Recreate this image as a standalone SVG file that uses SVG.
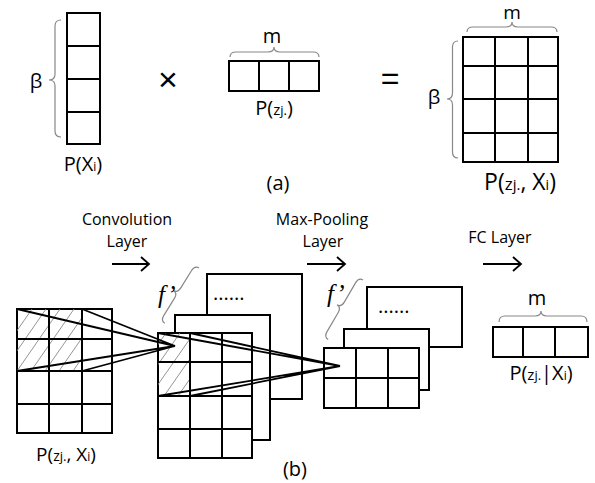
<svg xmlns="http://www.w3.org/2000/svg" width="595" height="483" viewBox="0 0 595 483">
<style>
.g{fill:#fff;stroke:#000;stroke-width:2}
.gl{stroke:#000;stroke-width:2;fill:none}
.br{fill:none;stroke:#888;stroke-width:1.2}
.h{fill:none;stroke:#888;stroke-width:0.9}
.t{font-family:"Open Sans","Liberation Sans",sans-serif;fill:#000}
.c{text-anchor:middle}
.f{font-family:"Liberation Serif",serif;font-style:italic;font-size:25px;fill:#000}
.ln{stroke:#000;stroke-width:1.8;fill:none}
</style>
<defs>
<clipPath id="clipA"><rect x="17" y="309" width="65" height="62"/></clipPath>
<clipPath id="clipB"><rect x="158" y="333" width="32" height="63"/></clipPath>
</defs>
<rect width="595" height="483" fill="#fff"/>

<g id="col-vector">
<rect class="g" x="67" y="13" width="33" height="131"/>
<path class="gl" d="M67,46H100M67,79H100M67,112H100"/>
<path class="br" d="M61,20 Q55,20 55,26 L55,74 Q55,80 49,80 Q55,80 55,86 L55,131 Q55,137 61,137"/>
<text class="t c" x="36" y="88" font-size="20">β</text>
<text class="t c" x="83" y="171" font-size="20">P(X<tspan font-size="12">i</tspan>)</text>
</g>

<text class="t c" x="168" y="91" font-size="34" style="font-family:'Liberation Sans',sans-serif">×</text>

<g id="row-vector">
<rect class="g" x="229" y="61" width="90" height="30"/>
<path class="gl" d="M259,61V91M289,61V91"/>
<path class="br" d="M230,57 Q230,52 236,52 L268,52 Q274,52 274,47 Q274,52 280,52 L313,52 Q319,52 319,57"/>
<text class="t c" x="272" y="43" font-size="20">m</text>
<text class="t c" x="274" y="115" font-size="20">P(<tspan font-size="15">z</tspan><tspan font-size="13">j.</tspan>)</text>
</g>

<text class="t c" x="390" y="89" font-size="32" style="font-family:'Liberation Sans',sans-serif">=</text>

<g id="joint-matrix">
<rect class="g" x="463" y="37" width="95" height="125"/>
<path class="gl" d="M495,37V162M528,37V162M463,66H558M463,99H558M463,133H558"/>
<path class="br" d="M467,32 Q467,27 473,27 L506,27 Q512,27 512,22 Q512,27 518,27 L551,27 Q557,27 557,32"/>
<path class="br" d="M458,41 Q452.5,41 452.5,47 L452.5,93 Q452.5,99 447,99 Q452.5,99 452.5,105 L452.5,152 Q452.5,158 458,158"/>
<text class="t c" x="512" y="19" font-size="19">m</text>
<text class="t c" x="434" y="104" font-size="20">β</text>
<text class="t c" x="520" y="190" font-size="23">P(<tspan font-size="17">z</tspan><tspan font-size="15">j.</tspan>, X<tspan font-size="14">i</tspan>)</text>
</g>

<text class="t c" x="278" y="190" font-size="20">(a)</text>

<g id="input-matrix">
<rect class="g" x="17" y="309" width="95" height="124"/>
<path class="h" clip-path="url(#clipA)" d="M-25,371L18,309M-11,371L32,309M3,371L46,309M17,371L60,309M31,371L74,309M45,371L88,309M59,371L102,309M73,371L116,309"/>
<path class="gl" d="M49,309V433M82,309V433M17,339H112M17,371H112M17,404H112"/>
<text class="t c" x="66" y="461" font-size="19">P(<tspan font-size="14">z</tspan><tspan font-size="13">j.</tspan>, X<tspan font-size="12">i</tspan>)</text>
</g>

<g id="conv-label">
<text class="t c" x="127" y="225" font-size="16">Convolution</text>
<text class="t c" x="127" y="247" font-size="16">Layer</text>
</g>

<g id="conv-maps">
<rect class="g" x="207" y="274" width="95" height="125"/>
<text class="t" x="213" y="300" font-size="20">......</text>
<rect class="g" x="175" y="315" width="95" height="125"/>
<rect class="g" x="158" y="333" width="94" height="125"/>
<path class="h" clip-path="url(#clipB)" d="M122,396L166,333M136,396L180,333M150,396L194,333M164,396L208,333M178,396L222,333"/>
<path class="gl" d="M190,333V458M222,333V458M158,362H252M158,396H252M158,429H252"/>
<path class="br" d="M0,0 Q0,5 6,5 L26.5,5 Q32.5,5 32.5,10 Q32.5,5 38.5,5 L59,5 Q65,5 65,0" transform="translate(199,268) rotate(121.7)"/>
<text class="f" x="158" y="303">f’</text>
</g>

<g id="pool-label">
<text class="t c" x="322" y="225" font-size="16">Max-Pooling</text>
<text class="t c" x="323" y="247" font-size="16">Layer</text>
</g>

<g id="pool-maps">
<rect class="g" x="367" y="287" width="95" height="60"/>
<text class="t" x="378" y="313" font-size="20">......</text>
<rect class="g" x="344" y="329" width="85" height="61"/>
<rect class="g" x="324" y="348" width="95" height="60"/>
<path class="gl" d="M356,348V408M388,348V408M324,378H419"/>
<path class="br" d="M0,0 Q0,5 6,5 L28.5,5 Q34.5,5 34.5,10 Q34.5,5 40.5,5 L63,5 Q69,5 69,0" transform="translate(363,280) rotate(120.3)"/>
<text class="f" x="327" y="302">f’</text>
</g>

<g id="fc-label">
<text class="t c" x="500" y="243" font-size="16">FC Layer</text>
</g>

<g id="output-vector">
<rect class="g" x="493" y="327" width="95" height="30"/>
<path class="gl" d="M523,327V357M555,327V357"/>
<path class="br" d="M499,322 Q499,316 505,316 L535,316 Q541,316 541,311 Q541,316 547,316 L581,316 Q587,316 587,322"/>
<text class="t c" x="537" y="305" font-size="20">m</text>
<text class="t c" x="541" y="380" font-size="20">P(<tspan font-size="15">z</tspan><tspan font-size="13">j.</tspan>|X<tspan font-size="12">i</tspan>)</text>
</g>

<text class="t c" x="295" y="476" font-size="20">(b)</text>

<g id="connectors">
<path class="ln" d="M112,264H149M141,257L149,264L141,271"/>
<path class="ln" d="M307,264H345M337,257L345,264L337,271"/>
<path class="ln" d="M483,264H521M513,257L521,264L513,271"/>
<path class="ln" d="M17,309L175,346L82,309M17,371L175,346L82,371"/>
<path class="ln" d="M158,333L340,366L190,333M158,396L340,366L190,396"/>
</g>
</svg>
